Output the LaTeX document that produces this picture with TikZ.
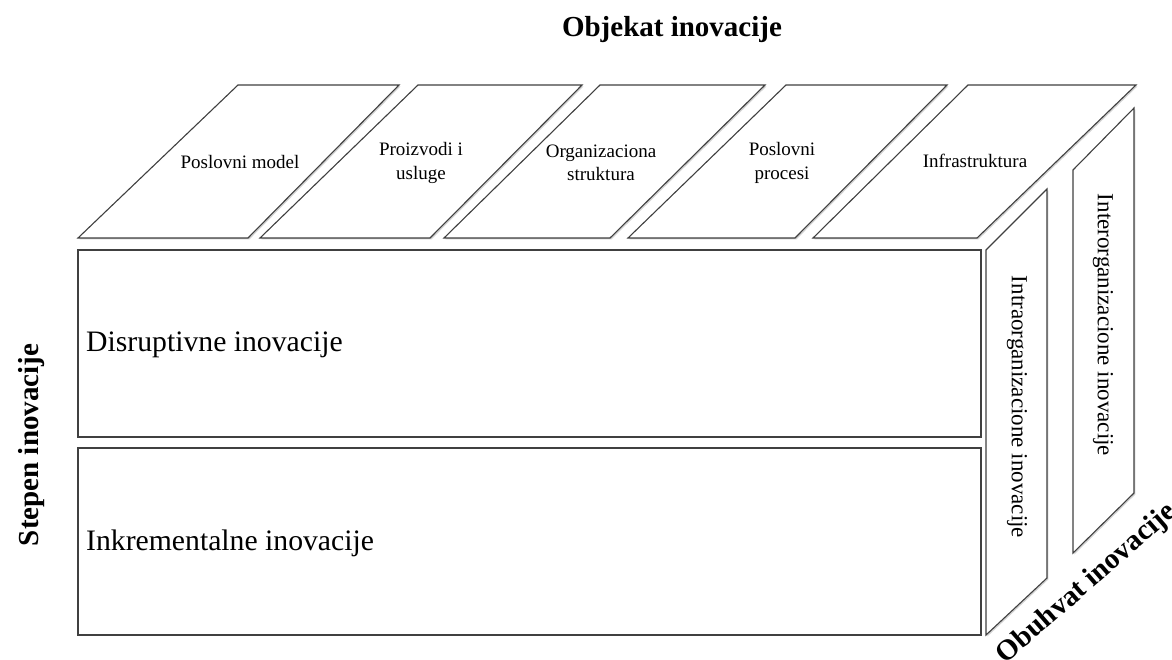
\documentclass[tikz,border=0pt]{standalone}
\usepackage{fontspec}
\setmainfont{Liberation Serif}
\usetikzlibrary{shadows}
\begin{document}
\begin{tikzpicture}[x=1pt,y=-1pt,
  face/.style={draw=black!75, line width=1.1pt, fill=white,
    drop shadow={shadow xshift=1.4pt, shadow yshift=-1.4pt, fill=black!35}},
  small/.style={font=\fontsize{19}{23.5}\selectfont, align=center, inner sep=0pt},
  side/.style={font=\fontsize{23}{27}\selectfont, inner sep=0pt, rotate=-90},
  big/.style={font=\fontsize{29.7}{34}\selectfont, inner sep=0pt, anchor=west},
  axis/.style={font=\bfseries\fontsize{29}{33}\selectfont, inner sep=0pt}]
\useasboundingbox (0,0) rectangle (1172,660);

% object of innovation: five slanted faces on top of the block
\path[face] (78,238) -- (238,85) -- (399,85) -- (248,238) -- cycle;
\path[face] (260,238) -- (418,85) -- (582,85) -- (430,238) -- cycle;
\path[face] (444,238) -- (600,85) -- (765,85) -- (610,238) -- cycle;
\path[face] (628,238) -- (786,85) -- (947,85) -- (795,238) -- cycle;
\path[face] (813,238) -- (968,85) -- (1136,85) -- (977,238) -- cycle;

% degree of innovation: two front faces
\path[face] (78,250) rectangle (981,437);
\path[face] (78,448) rectangle (981,635);

% scope of innovation: two side faces
\path[face] (986,250) -- (1047,189) -- (1047,578) -- (986,635) -- cycle;
\path[face] (1073,170) -- (1134,108) -- (1134,493) -- (1073,553) -- cycle;

% labels of the top faces
\node[small] (pm)  at (240,162) {Poslovni model};
\node[small] (piu) at (421,163) {Proizvodi i\\usluge};
\node[small] (os)  at (601,163) {Organizaciona\\struktura};
\node[small] (pp)  at (782,163) {Poslovni\\procesi};
\node[small] (inf) at (975,161) {Infrastruktura};

% labels of the front faces
\node[big] (dis) at (86,345) {Disruptivne inovacije};
\node[big] (ink) at (86,543) {Inkrementalne inovacije};

% labels of the side faces
\node[side] (intra) at (1017,407) {Intraorganizacione inovacije};
\node[side] (inter) at (1103,325) {Interorganizacione inovacije};

% axis titles
\node[axis] (obj) at (672,30) {Objekat inovacije};
\node[axis, rotate=90] (stp) at (32,445) {Stepen inovacije};
\node[axis, rotate=41] (obh) at (1087,584) {Obuhvat inovacije};
\end{tikzpicture}
\end{document}
